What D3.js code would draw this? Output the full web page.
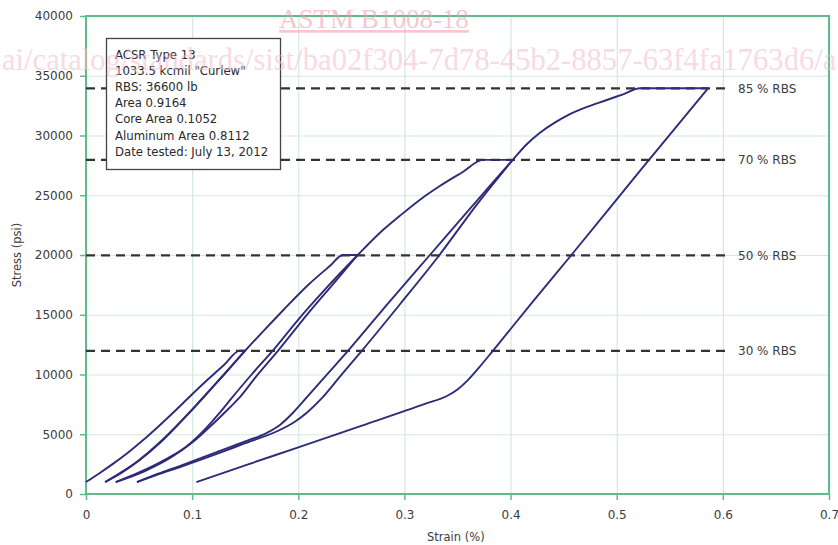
<!DOCTYPE html>
<html>
<head>
<meta charset="utf-8">
<script src="https://cdn.jsdelivr.net/npm/d3@7"></script>
<style>
  body { margin: 0; background: #fff; }
  svg { display: block; font-family: "DejaVu Sans", Verdana, sans-serif; }
</style>
</head>
<body>
<div id="chart"></div>
<script>
// axis ticks
const strainTicks = [0, 0.1, 0.2, 0.3, 0.4, 0.5, 0.6, 0.7];
const stressTicks = [0, 5000, 10000, 15000, 20000, 25000, 30000, 35000, 40000];

// reference RBS levels (psi)
const rbsLabels = ['85 % RBS', '70 % RBS', '50 % RBS', '30 % RBS'];
const rbsStress = [33950, 27960, 19970, 11980];

const infoLines = [
  'ACSR Type 13',
  '1033.5 kcmil "Curlew"',
  'RBS: 36600 lb',
  'Area 0.9164',
  'Core Area 0.1052',
  'Aluminum Area 0.8112',
  'Date tested: July 13, 2012'
];

// stress-strain test, [strain %, stress psi]
const load1 = [[0, 1000], [0.012, 1700], [0.025, 2500], [0.04, 3500], [0.055, 4600], [0.07, 5800],
  [0.085, 7050], [0.1, 8350], [0.115, 9600], [0.13, 10800], [0.145, 12000], [0.15, 12000]];
const unload1 = [[0.15, 12000], [0.13, 10000], [0.11, 8000], [0.09, 6100], [0.07, 4300],
  [0.05, 2800], [0.034, 1800], [0.018, 1000]];
const load2 = [[0.018, 1000], [0.032, 1750], [0.048, 2700], [0.068, 4200], [0.088, 5950],
  [0.108, 7850], [0.128, 9800], [0.15, 12000], [0.168, 13720], [0.186, 15400], [0.21, 17550],
  [0.23, 19100], [0.242, 20000], [0.256, 20000]];
const unload2 = [[0.256, 20000], [0.235, 17800], [0.21, 15200], [0.181, 12000], [0.16, 9800],
  [0.145, 8100], [0.135, 7200], [0.12, 5900], [0.1, 4300], [0.08, 3050], [0.055, 1900], [0.028, 1000]];
const load3 = [[0.028, 1000], [0.05, 1800], [0.075, 2900], [0.095, 4000], [0.112, 5400],
  [0.125, 6700], [0.137, 8000], [0.156, 10000], [0.176, 12000], [0.2, 14600], [0.225, 17100],
  [0.256, 20000], [0.275, 21700], [0.296, 23300], [0.315, 24650], [0.333, 25750], [0.355, 26950],
  [0.374, 27960], [0.402, 27960]];
const unload3 = [[0.402, 27960], [0.368, 24200], [0.333, 20000], [0.296, 15900], [0.26, 12000],
  [0.24, 9900], [0.222, 8000], [0.208, 6800], [0.196, 6000], [0.18, 5250], [0.15, 4250],
  [0.12, 3250], [0.09, 2300], [0.068, 1650], [0.048, 1000]];
const load4 = [[0.048, 1000], [0.068, 1700], [0.09, 2400], [0.12, 3400], [0.15, 4400], [0.17, 5100],
  [0.183, 5800], [0.195, 6800], [0.21, 8300], [0.228, 10100], [0.247, 12000], [0.285, 16000],
  [0.324, 20000], [0.363, 24000], [0.402, 27960], [0.415, 29250], [0.428, 30250], [0.442, 31100],
  [0.455, 31750], [0.472, 32400], [0.49, 32950], [0.506, 33450], [0.522, 33950], [0.586, 33950]];
const unload4 = [[0.586, 33950], [0.5215, 27000], [0.4573, 20000], [0.42, 16000], [0.3835, 12000],
  [0.37, 10550], [0.36, 9550], [0.35, 8750], [0.34, 8200], [0.32, 7560], [0.26, 5720],
  [0.2, 3900], [0.15, 2400], [0.104, 1000]];

const curves = [load1, unload1, load2, unload2, load3, unload3, load4, unload4];

const width = 838;
const height = 545;
const margin = { top: 16, right: 9, bottom: 51, left: 86 };
const plotW = width - margin.left - margin.right;
const plotH = height - margin.top - margin.bottom;

const green = '#5cbd8a';
const gridColor = '#d4e9df';
const textColor = '#3c3c3c';
const lineColor = '#2f2b78';

const svg = d3.select('#chart')
  .append('svg')
  .attr('width', width)
  .attr('height', height);

const g = svg.append('g')
  .attr('transform', `translate(${margin.left},${margin.top})`);

const x = d3.scaleLinear().domain([0, 0.7]).range([0, plotW]);
const y = d3.scaleLinear().domain([0, 40000]).range([plotH, 0]);

// grid
g.append('g')
  .attr('class', 'grid-x')
  .attr('transform', `translate(0,${plotH})`)
  .call(d3.axisBottom(x).tickValues(strainTicks).tickSize(-plotH).tickFormat(''))
  .call(s => s.select('.domain').remove())
  .call(s => s.selectAll('line').attr('stroke', gridColor).attr('stroke-width', 1.2));

g.append('g')
  .attr('class', 'grid-y')
  .call(d3.axisLeft(y).tickValues(stressTicks).tickSize(-plotW).tickFormat(''))
  .call(s => s.select('.domain').remove())
  .call(s => s.selectAll('line').attr('stroke', gridColor).attr('stroke-width', 1.2));

// axes
const xAxis = g.append('g')
  .attr('transform', `translate(0,${plotH})`)
  .call(d3.axisBottom(x).tickValues(strainTicks).tickSize(6).tickPadding(10).tickFormat(d3.format('~g')));

const yAxis = g.append('g')
  .call(d3.axisLeft(y).tickValues(stressTicks).tickSize(6).tickPadding(7).tickFormat(d3.format('d')));

[xAxis, yAxis].forEach(a => {
  a.select('.domain').remove();
  a.selectAll('line').attr('stroke', green).attr('stroke-width', 1.5);
  a.selectAll('text')
    .attr('fill', textColor)
    .style('font-size', '12px')
    .style('font-family', '"DejaVu Sans", Verdana, sans-serif');
});

// frame
g.append('rect')
  .attr('width', plotW)
  .attr('height', plotH)
  .attr('fill', 'none')
  .attr('stroke', green)
  .attr('stroke-width', 2);

// RBS reference lines
const rbs = g.append('g').attr('class', 'rbs');

rbs.selectAll('line')
  .data(rbsStress)
  .enter()
  .append('line')
  .attr('x1', 0)
  .attr('x2', 642)
  .attr('y1', d => y(d))
  .attr('y2', d => y(d))
  .attr('stroke', '#333')
  .attr('stroke-width', 2.2)
  .attr('stroke-dasharray', '9,6');

rbs.selectAll('text')
  .data(rbsStress)
  .enter()
  .append('text')
  .attr('x', 652)
  .attr('y', d => y(d))
  .attr('dy', '0.36em')
  .attr('fill', textColor)
  .style('font-size', '12px')
  .text((d, i) => rbsLabels[i]);

// stress-strain curves (each leg is monotone in strain)
const line = d3.line()
  .x(d => x(d[0]))
  .y(d => y(d[1]))
  .curve(d3.curveMonotoneX);

g.append('g')
  .attr('class', 'curves')
  .selectAll('path')
  .data(curves.map(c => c.slice().sort((a, b) => a[0] - b[0])))
  .enter()
  .append('path')
  .attr('d', line)
  .attr('fill', 'none')
  .attr('stroke', lineColor)
  .attr('stroke-width', 1.9)
  .attr('stroke-linejoin', 'round');

// info box
const box = g.append('g').attr('transform', 'translate(20,22)');

box.append('rect')
  .attr('x', 0.5)
  .attr('y', 0.5)
  .attr('width', 174)
  .attr('height', 131)
  .attr('fill', '#fff')
  .attr('stroke', '#444')
  .attr('stroke-width', 1.3);

box.selectAll('text')
  .data(infoLines)
  .enter()
  .append('text')
  .attr('x', 9)
  .attr('y', (d, i) => 21 + i * 16.1)
  .attr('fill', '#2a2a2a')
  .style('font-size', '11.7px')
  .text(d => d);

// axis titles
svg.append('text')
  .attr('x', 427)
  .attr('y', 541)
  .attr('fill', textColor)
  .style('font-size', '11.5px')
  .text('Strain (%)');

svg.append('text')
  .attr('transform', 'translate(21,255) rotate(-90)')
  .attr('text-anchor', 'middle')
  .attr('fill', textColor)
  .style('font-size', '11.5px')
  .text('Stress (psi)');

// page watermark
const mark = svg.append('g')
  .style('font-family', '"Liberation Serif", "Times New Roman", serif')
  .attr('opacity', 0.55);

mark.append('text')
  .attr('x', 374)
  .attr('y', 28)
  .attr('text-anchor', 'middle')
  .attr('fill', '#ee9aae')
  .style('font-size', '27px')
  .style('text-decoration', 'underline')
  .text('ASTM B1008-18');

mark.append('text')
  .attr('x', 2)
  .attr('y', 70)
  .attr('fill', '#f4bccb')
  .style('font-size', '30.6px')
  .text('ai/catalog/standards/sist/ba02f304-7d78-45b2-8857-63f4fa1763d6/a');
</script>
</body>
</html>
